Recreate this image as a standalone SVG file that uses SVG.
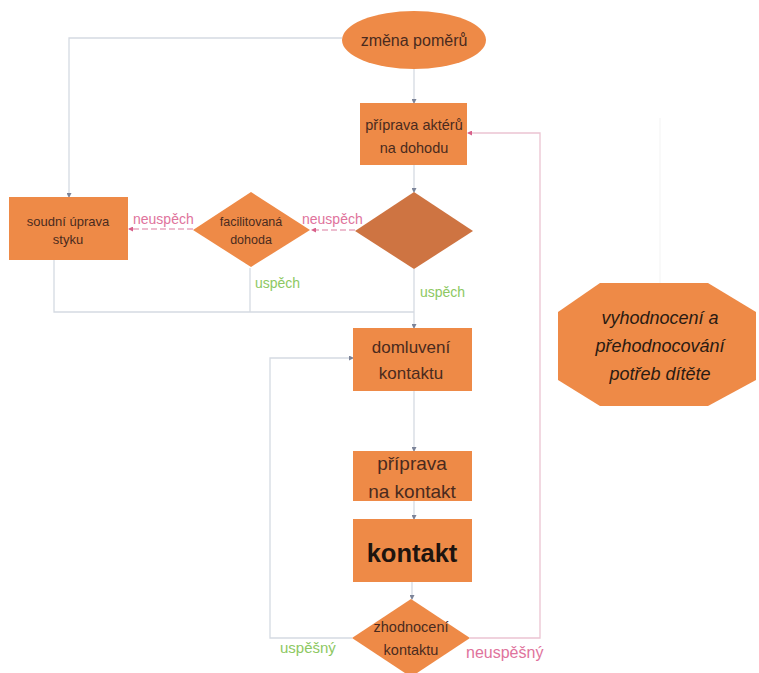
<svg xmlns="http://www.w3.org/2000/svg" width="759" height="673" viewBox="0 0 759 673">
<style>
.n{fill:#EE8A47;}
.d{fill:#CE7442;}
.t{font-family:"Liberation Sans",Arial,sans-serif;fill:#4A2A1E;text-anchor:middle;}
.ln{fill:none;stroke:#D5DAE2;stroke-width:1.3;}
.pk{fill:none;stroke:#E8A8C0;stroke-width:1.3;stroke-dasharray:6 3;}
.pks{fill:none;stroke:#EBC4D2;stroke-width:1.3;}
.lp{font-family:"Liberation Sans",Arial,sans-serif;fill:#E0739C;}
.lg{font-family:"Liberation Sans",Arial,sans-serif;fill:#8DC862;}
</style>
<defs>
<marker id="a" markerWidth="5" markerHeight="5" refX="4" refY="2.5" orient="auto" markerUnits="userSpaceOnUse">
<path d="M0,0 L5,2.5 L0,5 z" fill="#7C8499"/>
</marker>
<marker id="ap" markerWidth="5" markerHeight="5" refX="4" refY="2.5" orient="auto" markerUnits="userSpaceOnUse">
<path d="M0,0 L5,2.5 L0,5 z" fill="#D8608A"/>
</marker>
</defs>
<rect width="759" height="673" fill="#FFFFFF"/>
<g id="connectors">
<path class="ln" d="M342,38 H69 V197" marker-end="url(#a)"/>
<path class="ln" d="M414,69 V103" marker-end="url(#a)"/>
<path class="ln" d="M414,165 V192" marker-end="url(#a)"/>
<path class="pk" d="M355,230 H312" marker-end="url(#ap)"/>
<path class="pk" d="M193,229 H129" marker-end="url(#ap)"/>
<path class="ln" d="M54,260 V312 H414"/>
<path class="ln" d="M250,268 V312"/>
<path class="ln" d="M414,269 V328" marker-end="url(#a)"/>
<path class="ln" d="M414,391 V451" marker-end="url(#a)"/>
<path class="ln" d="M414,501 V519" marker-end="url(#a)"/>
<path class="ln" d="M412,582 V599" marker-end="url(#a)"/>
<path class="ln" d="M352,638 H270 V358 H353" marker-end="url(#a)"/>
<path class="pks" d="M470,638 H540 V133 H468" marker-end="url(#ap)"/>
<path d="M660,118 V283" fill="none" stroke="#F6F6F6" stroke-width="1.3"/>
<text class="lp" x="133" y="224" font-size="14">neuspěch</text>
<text class="lp" x="302" y="224" font-size="14">neuspěch</text>
<text class="lg" x="255" y="288" font-size="14">uspěch</text>
<text class="lg" x="420" y="297" font-size="14">uspěch</text>
<text class="lg" x="280" y="653" font-size="15">uspěšný</text>
<text class="lp" x="466" y="658" font-size="16">neuspěšný</text>
</g>
<g id="zmena">
<ellipse class="n" cx="414" cy="40" rx="72" ry="29"/>
<text class="t" x="414" y="46" font-size="16">změna poměrů</text>
</g>
<g id="priprava-akteru">
<rect class="n" x="360" y="103" width="107" height="62"/>
<text class="t" x="414" y="130" font-size="14.5">příprava aktérů</text>
<text class="t" x="414" y="153" font-size="14.5">na dohodu</text>
</g>
<g id="rozhodnuti">
<polygon class="d" points="414,192 473,231 414,269 355,231"/>
</g>
<g id="facilitovana">
<polygon class="n" points="251,192 310,230 251,267 193,230"/>
<text class="t" x="251" y="226" font-size="12.5">facilitovaná</text>
<text class="t" x="251" y="244" font-size="12.5">dohoda</text>
</g>
<g id="soudni">
<rect class="n" x="9" y="197" width="119" height="63"/>
<text class="t" x="68" y="226" font-size="13">soudní úprava</text>
<text class="t" x="68" y="244" font-size="13">styku</text>
</g>
<g id="domluveni">
<rect class="n" x="353" y="328" width="119" height="63"/>
<text class="t" x="411" y="353" font-size="17">domluvení</text>
<text class="t" x="411" y="379" font-size="17">kontaktu</text>
</g>
<g id="priprava-kontakt">
<rect class="n" x="353" y="451" width="119" height="50"/>
<text class="t" x="412" y="470" font-size="19">příprava</text>
<text class="t" x="412" y="498" font-size="19">na kontakt</text>
</g>
<g id="kontakt">
<rect class="n" x="353" y="519" width="119" height="63"/>
<text class="t" x="412" y="562" font-size="25.5" font-weight="bold" style="fill:#1E140F">kontakt</text>
</g>
<g id="zhodnoceni">
<polygon class="n" points="411,599 470,638 411,677 352,638"/>
<text class="t" x="411" y="632" font-size="14.5">zhodnocení</text>
<text class="t" x="411" y="655" font-size="14.5">kontaktu</text>
</g>
<g id="vyhodnoceni">
<polygon class="n" points="600,283 708,283 756,312 756,380 708,406 600,406 558,380 558,312"/>
<text class="t" x="660" y="324" font-size="18" font-style="italic" style="fill:#2A1A12">vyhodnocení a</text>
<text class="t" x="660" y="352" font-size="18" font-style="italic" style="fill:#2A1A12">přehodnocování</text>
<text class="t" x="660" y="380" font-size="18" font-style="italic" style="fill:#2A1A12">potřeb dítěte</text>
</g>
</svg>
